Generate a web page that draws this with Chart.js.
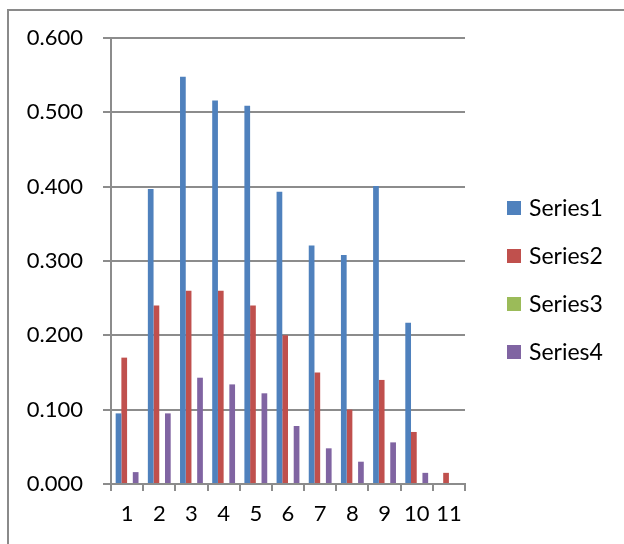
<!DOCTYPE html>
<html>
<head>
<meta charset="utf-8">
<script src="https://cdn.jsdelivr.net/npm/chart.js@4.4.1/dist/chart.umd.min.js"></script>
<style>
  html, body { margin: 0; padding: 0; background: #ffffff; }
  #wrap { width: 624px; height: 544px; position: relative; }
</style>
</head>
<body>
<div id="wrap"><canvas id="chart" width="624" height="544"></canvas></div>
<script>
// Category labels along the x axis
const categories = ['1', '2', '3', '4', '5', '6', '7', '8', '9', '10', '11'];

// Series names and values
const seriesNames = ['Series1', 'Series2', 'Series3', 'Series4'];
const series1 = [0.095, 0.397, 0.548, 0.516, 0.509, 0.393, 0.321, 0.308, 0.401, 0.217, 0];
const series2 = [0.170, 0.240, 0.260, 0.260, 0.240, 0.200, 0.150, 0.100, 0.140, 0.070, 0.015];
const series3 = [0, 0, 0, 0, 0, 0, 0, 0, 0, 0, 0];
const series4 = [0.016, 0.095, 0.143, 0.134, 0.122, 0.078, 0.048, 0.030, 0.056, 0.015, 0];

// Value axis ticks
const yTickValues = [0, 0.1, 0.2, 0.3, 0.4, 0.5, 0.6];

const seriesColors = ['#4F81BD', '#C0504D', '#9BBB59', '#8064A2'];
const seriesData = [series1, series2, series3, series4];

const FONT = 'Lato, "Open Sans", sans-serif';
const GRID = '#8c8c8c';

// Outer frame: left and top edges of the chart border
const frame = {
  id: 'frame',
  beforeDraw(chart) {
    const ctx = chart.ctx;
    ctx.save();
    ctx.strokeStyle = '#8a8a8a';
    ctx.lineWidth = 2;
    ctx.beginPath();
    ctx.moveTo(8, chart.height);
    ctx.lineTo(8, 10);
    ctx.lineTo(chart.width, 10);
    ctx.stroke();
    ctx.restore();
  }
};

// Legend drawn to the right of the plot, one series per row
const sideLegend = {
  id: 'sideLegend',
  afterDraw(chart) {
    const ctx = chart.ctx;
    const sets = chart.data.datasets;
    const rowStep = 48;
    const box = 14;
    const x0 = chart.chartArea.right + 42;
    const mid = 280;
    const top = mid - rowStep * (sets.length - 1) / 2;
    ctx.save();
    ctx.font = '23px ' + FONT;
    ctx.textBaseline = 'middle';
    ctx.textAlign = 'left';
    sets.forEach((ds, i) => {
      const cy = top + i * rowStep;
      ctx.fillStyle = ds.backgroundColor;
      ctx.fillRect(x0, cy - box / 2, box, box);
      ctx.fillStyle = '#000000';
      ctx.fillText(ds.label, x0 + box + 8, cy + 1);
    });
    ctx.restore();
  }
};

new Chart(document.getElementById('chart'), {
  type: 'bar',
  data: {
    labels: categories,
    datasets: seriesNames.map((name, i) => ({
      label: name,
      data: seriesData[i],
      backgroundColor: seriesColors[i],
      borderWidth: 0,
      categoryPercentage: 0.71,
      barPercentage: 1.0
    }))
  },
  options: {
    responsive: false,
    animation: false,
    devicePixelRatio: 1,
    layout: { padding: { left: 0, top: 38, right: 159, bottom: 0 } },
    plugins: {
      legend: { display: false },
      tooltip: { enabled: false }
    },
    scales: {
      x: {
        grid: {
          offset: true,
          drawOnChartArea: false,
          drawTicks: true,
          tickLength: 7,
          color: GRID,
          lineWidth: 2
        },
        border: { display: true, color: GRID, width: 2 },
        ticks: {
          color: '#000000',
          font: { family: FONT, size: 22 },
          padding: 10,
          maxRotation: 0,
          autoSkip: false
        },
        afterFit(scale) { scale.height = 60; }
      },
      y: {
        min: 0,
        max: 0.6,
        afterBuildTicks(scale) {
          scale.ticks = yTickValues.map(v => ({ value: v }));
        },
        grid: {
          color: GRID,
          lineWidth: 2,
          tickLength: 8,
          drawTicks: true
        },
        border: { display: true, color: GRID, width: 2 },
        ticks: {
          color: '#000000',
          font: { family: FONT, size: 22 },
          padding: 20,
          callback: v => Number(v).toFixed(3)
        },
        afterFit(scale) { scale.width = 111; }
      }
    }
  },
  plugins: [frame, sideLegend]
});
</script>
</body>
</html>
